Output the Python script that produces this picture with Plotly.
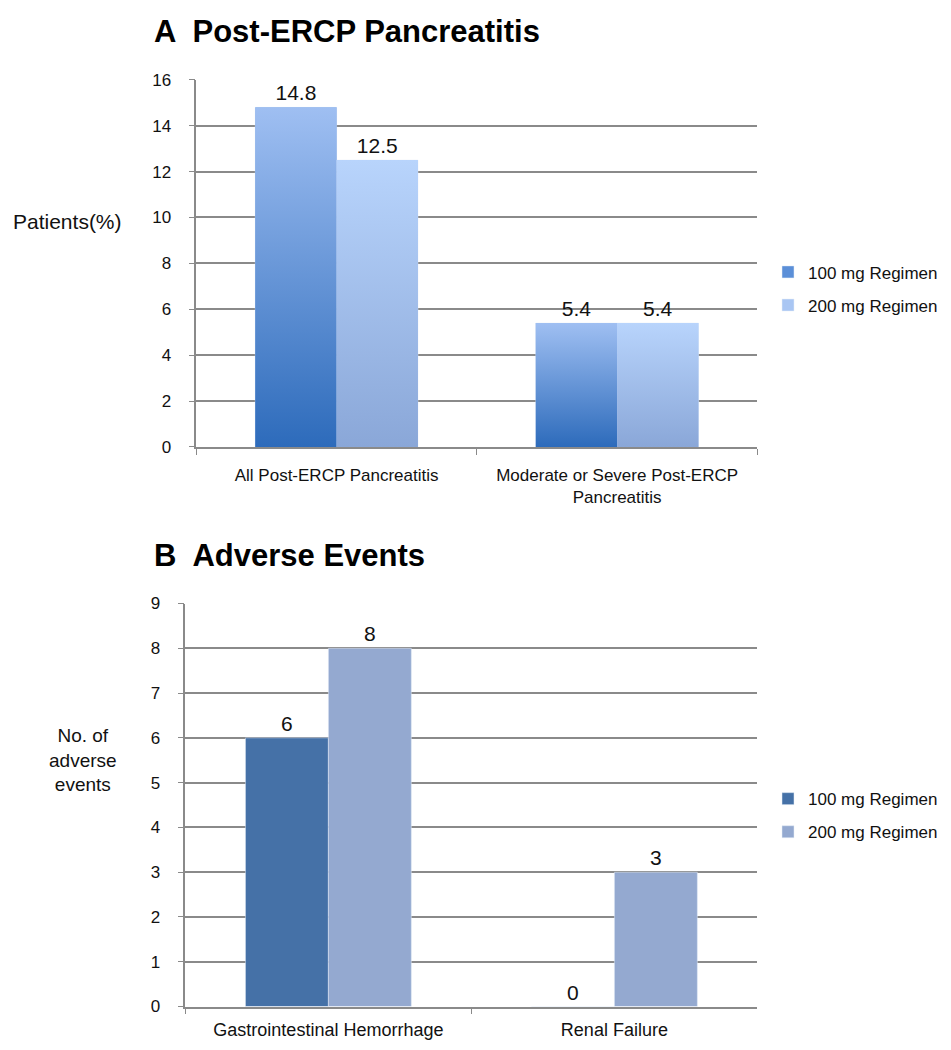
import plotly.graph_objects as go

# panel A: post-ERCP pancreatitis (% of patients)
cats_a = ["All Post-ERCP Pancreatitis", "Moderate or Severe Post-ERCP<br>Pancreatitis"]
a_100 = [14.8, 5.4]
a_200 = [12.5, 5.4]

# panel B: adverse events (counts)
cats_b = ["Gastrointestinal Hemorrhage", "Renal Failure"]
b_100 = [6, 0]
b_200 = [8, 3]

series = ["100 mg Regimen", "200 mg Regimen"]

FONT = "Liberation Sans"
GRID = "#8a8a8a"
BARGAP = 0.42
W = (1 - BARGAP) / 2  # width of one bar in category units

FW, FH = 935, 1034
# screenshot pixel -> figure pixel mapping (page margin and slight rescale of the capture)
XS, XC = 0.982, 6.0
YOFF, YS = 15.3, 0.984


def xp(px):
    return ((px - XC) / XS) / FW


def yp(py):
    return 1 - (py / YS - YOFF) / FH


grad_a = [
    [[0, "#2d6bbb"], [1, "#9fbff2"]],
    [[0, "#8aa7d8"], [1, "#b8d4fc"]],
]
flat_a = ["#5b8fd8", "#a9c6f3"]
cols_b = ["#4571a7", "#94a9d0"]

fig = go.Figure()

for i, (name, vals) in enumerate(zip(series, [a_100, a_200])):
    fig.add_trace(go.Bar(
        x=list(range(len(vals))), y=vals, name=name, marker_color=flat_a[i],
        text=[f"{v:.1f}" for v in vals], textposition="outside",
        textfont=dict(size=21, color="#111", family=FONT),
        cliponaxis=False, legend="legend", legendgroup=name,
        xaxis="x", yaxis="y",
    ))

# vertical gradient on top of each panel A bar
for i, vals in enumerate([a_100, a_200]):
    for j, v in enumerate(vals):
        xc = j + (i - 0.5) * W
        x0, x1 = xc - W / 2, xc + W / 2
        fig.add_trace(go.Scatter(
            x=[x0, x1, x1, x0, x0], y=[0, 0, v, v, 0],
            fill="toself", mode="none",
            fillgradient=dict(type="vertical", colorscale=grad_a[i]),
            showlegend=False, hoverinfo="skip", xaxis="x", yaxis="y",
        ))

for i, (name, vals) in enumerate(zip(series, [b_100, b_200])):
    fig.add_trace(go.Bar(
        x=cats_b, y=vals, name=name, marker_color=cols_b[i],
        text=[str(v) for v in vals], textposition="outside",
        textfont=dict(size=21, color="#111", family=FONT),
        cliponaxis=False, legend="legend2", legendgroup="b" + name,
        xaxis="x2", yaxis="y2",
    ))

axis_common = dict(showline=True, linecolor=GRID, linewidth=1.5)
ytick = dict(size=17, color="#111", family=FONT)
leg_font = dict(size=17, family=FONT, color="#111")
yax = dict(ticks="outside", ticklen=6, tickcolor=GRID, tickfont=ytick,
           ticklabelstandoff=14, showgrid=True, gridcolor=GRID, gridwidth=1.5,
           zeroline=False, **axis_common)

fig.update_layout(
    width=FW, height=FH,
    margin=dict(l=0, r=0, t=0, b=0),
    paper_bgcolor="white", plot_bgcolor="white",
    bargap=BARGAP, barmode="group",
    font=dict(family=FONT, color="#111"),
    xaxis=dict(domain=[xp(195), xp(758)], anchor="y", range=[-0.5, 1.5],
               tickmode="array", tickvals=[0, 1], ticktext=cats_a, ticks="",
               minor=dict(tick0=-0.5, dtick=1, ticks="outside", ticklen=6,
                          tickcolor=GRID, showgrid=False),
               ticklabelstandoff=12,
               tickfont=dict(size=17, color="#111", family=FONT),
               showgrid=False, zeroline=False, **axis_common),
    yaxis=dict(domain=[yp(446), yp(78)], anchor="x", range=[0, 16], dtick=2, **yax),
    xaxis2=dict(domain=[xp(184), xp(758)], anchor="y2", type="category",
                tickson="boundaries", ticks="outside", ticklen=6, tickcolor=GRID,
                ticklabelstandoff=6,
                tickfont=dict(size=18, color="#111", family=FONT),
                showgrid=False, **axis_common),
    yaxis2=dict(domain=[yp(1007), yp(603)], anchor="x2", range=[0, 9], dtick=1, **yax),
    legend=dict(x=xp(769), y=yp(253), xanchor="left", yanchor="top",
                font=leg_font, itemwidth=30, tracegroupgap=8),
    legend2=dict(x=xp(769), y=yp(781), xanchor="left", yanchor="top",
                 font=leg_font, itemwidth=30, tracegroupgap=8),
    annotations=[
        dict(text="<b>A  Post-ERCP Pancreatitis</b>", x=xp(150), y=yp(30),
             xref="paper", yref="paper", xanchor="left", yanchor="middle",
             showarrow=False, font=dict(size=31, family=FONT, color="#000")),
        dict(text="<b>B  Adverse Events</b>", x=xp(150), y=yp(555),
             xref="paper", yref="paper", xanchor="left", yanchor="middle",
             showarrow=False, font=dict(size=31, family=FONT, color="#000")),
        dict(text="Patients(%)", x=xp(66), y=yp(220),
             xref="paper", yref="paper", xanchor="center", yanchor="middle",
             showarrow=False, font=dict(size=21, family=FONT, color="#111")),
        dict(text="No. of<br>adverse<br>events", x=xp(81), y=yp(760),
             xref="paper", yref="paper", xanchor="center", yanchor="middle",
             showarrow=False, font=dict(size=19, family=FONT, color="#111")),
    ],
)

fig.write_html("out.html")
